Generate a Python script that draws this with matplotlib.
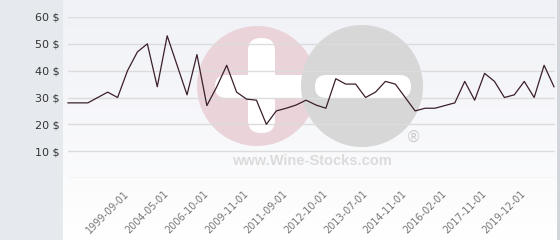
import numpy as np
import matplotlib.pyplot as plt
from matplotlib.patches import Circle, FancyBboxPatch, Rectangle

# price history, one value per sample (USD)
prices = [28, 28, 28, 30, 32, 30, 40, 47, 50, 34,
          53, 42, 31, 46, 27, 34, 42, 32, 29.4, 29,
          20, 25, 26, 27.2, 29, 27.2, 26, 37, 35, 35,
          30, 32, 36, 35, 30, 25, 26, 26, 27, 28,
          36, 29, 39, 36, 30, 31, 36, 30, 42, 34]
tick_idx = [6, 10, 14, 18, 22, 26, 30, 34, 38, 42, 46]
tick_labels = ["1999-09-01", "2004-05-01", "2006-10-01", "2009-11-01",
               "2011-09-01", "2012-10-01", "2013-07-01", "2014-11-01",
               "2016-02-01", "2017-11-01", "2019-12-01"]
y_ticks = [10, 20, 30, 40, 50, 60]

W, H = 560, 240
fig = plt.figure(figsize=(W / 100, H / 100), dpi=100)
fig.patch.set_facecolor("white")

# backgrounds: left panel, gradient plot area, right border
bg = fig.add_axes([0, 0, 1, 1])
bg.set_xlim(0, W)
bg.set_ylim(H, 0)
bg.axis("off")
bg.add_patch(Rectangle((0, 0), 63, H, color="#e6eaee", lw=0))
grad = np.linspace(0, 1, 256).reshape(-1, 1)
top = np.array([0.945, 0.949, 0.969])
bot = np.array([1.0, 1.0, 1.0])
img = top + (bot - top) * grad[..., None] ** 1.2
bg.imshow(img.reshape(256, 1, 3), extent=(63, 557, H, 0), aspect="auto")
bg.add_patch(Rectangle((557, 0), 3, H, color="#d2d6da", lw=0))

# watermark logo
bg.add_patch(Circle((257, 86), 60, color="#ead3d9", lw=0))
bg.add_patch(FancyBboxPatch((248, 38), 27, 95, boxstyle="round,pad=0,rounding_size=13",
                            color="white", lw=0))
bg.add_patch(FancyBboxPatch((215, 75), 100, 23, boxstyle="round,pad=0,rounding_size=11",
                            color="white", lw=0))
bg.add_patch(Circle((362, 86), 61, color="#d7d7d7", lw=0))
bg.add_patch(FancyBboxPatch((315, 75), 96, 23, boxstyle="round,pad=0,rounding_size=11",
                            color="white", lw=0))
bg.text(312, 161, "www.Wine-Stocks.com", color="#dbdbdb", fontsize=10.5,
        family="Liberation Sans", fontweight="bold", ha="center", va="center")
bg.text(413, 137, "\u00ae", color="#cccccc", fontsize=11, ha="center", va="center")

ax = fig.add_axes([68 / W, (H - 178) / H, 487 / W, (178 - 17) / H])
ax.patch.set_alpha(0)
x = np.arange(len(prices))
ax.plot(x, prices, color="#3b1f2b", lw=0.9, clip_on=False)
ax.set_xlim(0, 49.1)
ax.set_ylim(0, 60)

ax.set_yticks([0] + y_ticks)
ax.set_yticklabels([""] + ["%d $" % v for v in y_ticks], fontsize=8, color="#333333")
ax.yaxis.grid(True, color="#dcdcdc", lw=1)
ax.tick_params(axis="y", length=0, pad=6)

ax.set_xticks(tick_idx)
ax.set_xticklabels(tick_labels, rotation=45, ha="right", va="center",
                   rotation_mode="anchor", fontsize=7, color="#777777")
ax.tick_params(axis="x", length=0, pad=10)
for s in ax.spines.values():
    s.set_visible(False)

fig.savefig("out.png", dpi=100)
